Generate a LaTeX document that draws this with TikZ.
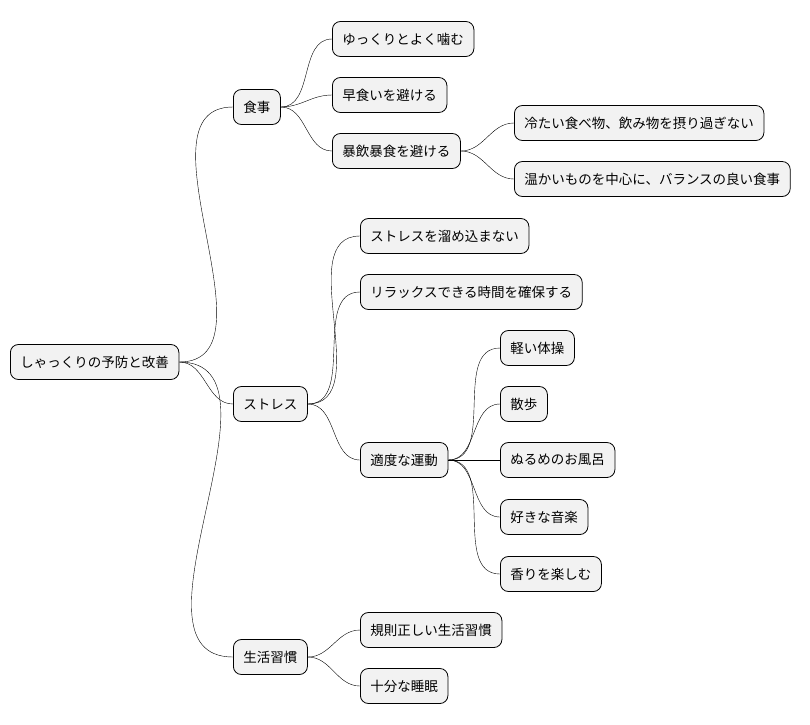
\documentclass[tikz,border=0pt]{standalone}
\usepackage{fontspec}
\newfontfamily\cjk{Noto Sans CJK JP}
\begin{document}
\begin{tikzpicture}[x=1pt,y=-1pt,
  topic/.style={rectangle, rounded corners=8pt, draw, thick, fill=gray!10, anchor=west,
    minimum height=35pt, inner xsep=10pt, font=\cjk\fontsize{13.5}{16}\selectfont},
  link/.style={draw, thin, out=0, in=180}]
\useasboundingbox (0,0) rectangle (810,724);
\node [topic] (root) at (10,362) {しゃっくりの予防と改善};

\node [topic] (meal) at (233,107) {食事};
\node [topic] (meal1) at (332,39) {ゆっくりとよく噛む};
\node [topic] (meal2) at (332,95) {早食いを避ける};
\node [topic] (meal3) at (332,151) {暴飲暴食を避ける};
\node [topic] (cold) at (514,123) {冷たい食べ物、飲み物を摂り過ぎない};
\node [topic] (warm) at (514,179) {温かいものを中心に、バランスの良い食事};

\node [topic] (stress) at (233,404) {ストレス};
\node [topic] (stress1) at (360,236) {ストレスを溜め込まない};
\node [topic] (stress2) at (360,292) {リラックスできる時間を確保する};
\node [topic] (exercise) at (360,460) {適度な運動};
\node [topic] (ex1) at (500,348) {軽い体操};
\node [topic] (ex2) at (500,404) {散歩};
\node [topic] (ex3) at (500,460) {ぬるめのお風呂};
\node [topic] (ex4) at (500,517) {好きな音楽};
\node [topic] (ex5) at (500,574) {香りを楽しむ};

\node [topic] (life) at (233,657) {生活習慣};
\node [topic] (life1) at (360,630) {規則正しい生活習慣};
\node [topic] (life2) at (360,686) {十分な睡眠};

\foreach \a/\b in {root/meal, root/stress, root/life,
  meal/meal1, meal/meal2, meal/meal3, meal3/cold, meal3/warm,
  stress/stress1, stress/stress2, stress/exercise,
  exercise/ex1, exercise/ex2, exercise/ex3, exercise/ex4, exercise/ex5,
  life/life1, life/life2}
  \draw (\a.east) to[link] (\b.west);
\end{tikzpicture}
\end{document}
